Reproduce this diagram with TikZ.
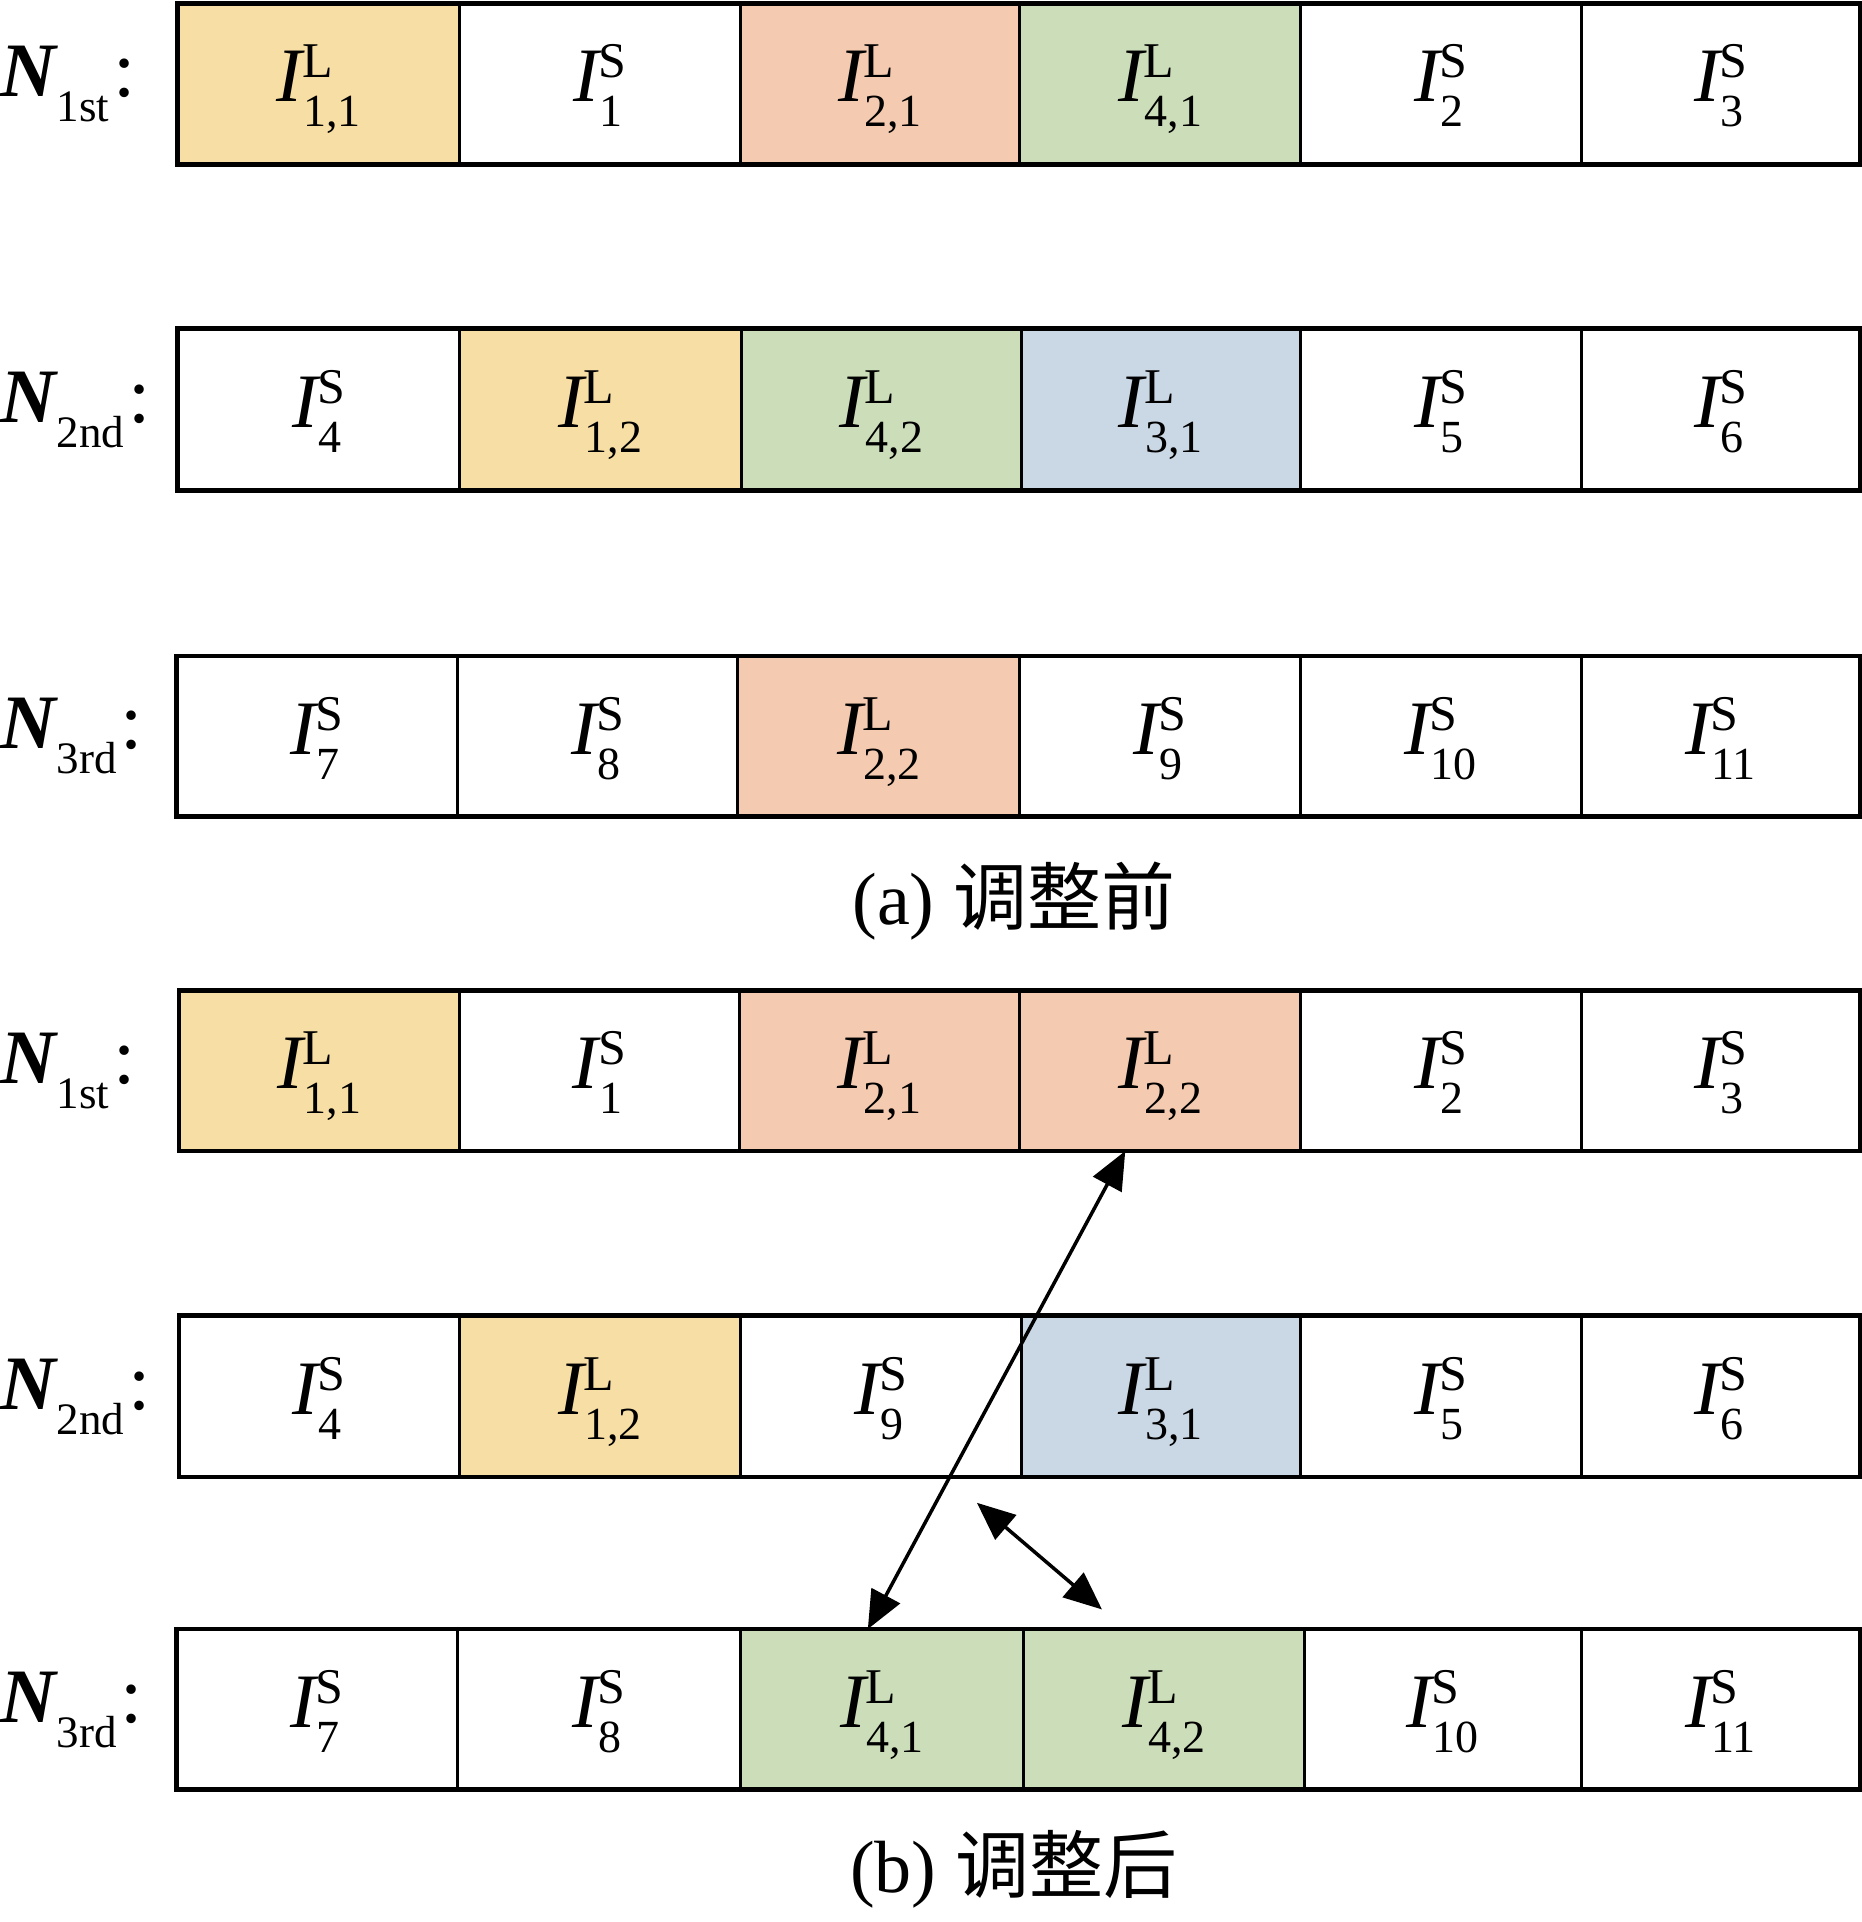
\documentclass[tikz,border=0pt]{standalone}
\usepackage{fontspec}
\setmainfont{Liberation Serif}
\newfontfamily\cjk{Noto Sans CJK SC}
\usetikzlibrary{arrows.meta,calc}
\definecolor{cy}{RGB}{247,222,164}
\definecolor{cs}{RGB}{244,202,176}
\definecolor{cg}{RGB}{204,222,185}
\definecolor{cb}{RGB}{202,215,228}
\newcommand\Iv[2]{\mbox{\fontsize{77}{77}\selectfont\itshape I}\kern-0.5pt\mbox{\ooalign{\raisebox{24pt}{\fontsize{50}{50}\selectfont #1}\cr\kern1pt\raisebox{-25pt}{\fontsize{46}{46}\selectfont #2}\cr}}}
\newcommand\Nl[1]{{\fontsize{77}{77}\selectfont\bfseries\itshape N}\kern1pt\raisebox{-25pt}{\fontsize{45}{45}\selectfont #1}\kern4pt{\fontsize{80}{80}\selectfont :}}
\newcommand\cell[7]{\node[cellbox, fill=#6, minimum width={(#3-#2)*1.2258pt}, minimum height={(#5-#4)*1.2258pt}] (#1) at ({(#2+#3)/2},{(#4+#5)/2}) {#7};}
\tikzset{
  cellbox/.style={draw=black, line width=3pt, inner sep=0pt, outer sep=0pt, text height=64pt, text depth=28pt},
  outerline/.style={draw=black, line width=4.5pt},
  lab/.style={inner sep=0pt, outer sep=0pt},
  captext/.style={inner sep=0pt, font=\fontsize{74}{74}\selectfont},
  dbl/.style={line width=3.5pt, {Triangle[length=38pt,width=32pt]}-{Triangle[length=38pt,width=32pt]}}
}
\begin{document}
\begin{tikzpicture}[x=1.2258pt, y=-1.2258pt]
\useasboundingbox (0,0) rectangle (1519,1568);
% ---- (a) row 1
\cell{a11}{145}{375}{3}{134}{cy}{\Iv{L}{1,1}}
\cell{a12}{375}{604}{3}{134}{white}{\Iv{S}{1}}
\cell{a13}{604}{832}{3}{134}{cs}{\Iv{L}{2,1}}
\cell{a14}{832}{1061}{3}{134}{cg}{\Iv{L}{4,1}}
\cell{a15}{1061}{1290}{3}{134}{white}{\Iv{S}{2}}
\cell{a16}{1290}{1517.2}{3}{134}{white}{\Iv{S}{3}}
\draw[outerline] (a11.north west) rectangle (a16.south east);
% ---- (a) row 2
\cell{a21}{145}{375}{268}{400}{white}{\Iv{S}{4}}
\cell{a22}{375}{605}{268}{400}{cy}{\Iv{L}{1,2}}
\cell{a23}{605}{833}{268}{400}{cg}{\Iv{L}{4,2}}
\cell{a24}{833}{1061}{268}{400}{cb}{\Iv{L}{3,1}}
\cell{a25}{1061}{1290}{268}{400}{white}{\Iv{S}{5}}
\cell{a26}{1290}{1517.2}{268}{400}{white}{\Iv{S}{6}}
\draw[outerline] (a21.north west) rectangle (a26.south east);
% ---- (a) row 3
\cell{a31}{144}{373}{535}{666}{white}{\Iv{S}{7}}
\cell{a32}{373}{602}{535}{666}{white}{\Iv{S}{8}}
\cell{a33}{602}{832}{535}{666}{cs}{\Iv{L}{2,2}}
\cell{a34}{832}{1061}{535}{666}{white}{\Iv{S}{9}}
\cell{a35}{1061}{1290}{535}{666}{white}{\Iv{S}{10}}
\cell{a36}{1290}{1517.2}{535}{666}{white}{\Iv{S}{11}}
\draw[outerline] (a31.north west) rectangle (a36.south east);
% ---- (b) row 1
\cell{b11}{146}{375}{808}{939}{cy}{\Iv{L}{1,1}}
\cell{b12}{375}{603}{808}{939}{white}{\Iv{S}{1}}
\cell{b13}{603}{832}{808}{939}{cs}{\Iv{L}{2,1}}
\cell{b14}{832}{1061}{808}{939}{cs}{\Iv{L}{2,2}}
\cell{b15}{1061}{1290}{808}{939}{white}{\Iv{S}{2}}
\cell{b16}{1290}{1517.2}{808}{939}{white}{\Iv{S}{3}}
\draw[outerline] (b11.north west) rectangle (b16.south east);
% ---- (b) row 2
\cell{b21}{146}{375}{1073}{1205}{white}{\Iv{S}{4}}
\cell{b22}{375}{604}{1073}{1205}{cy}{\Iv{L}{1,2}}
\cell{b23}{604}{833}{1073}{1205}{white}{\Iv{S}{9}}
\cell{b24}{833}{1061}{1073}{1205}{cb}{\Iv{L}{3,1}}
\cell{b25}{1061}{1290}{1073}{1205}{white}{\Iv{S}{5}}
\cell{b26}{1290}{1517.2}{1073}{1205}{white}{\Iv{S}{6}}
\draw[outerline] (b21.north west) rectangle (b26.south east);
% ---- (b) row 3
\cell{b31}{144}{373}{1329}{1460}{white}{\Iv{S}{7}}
\cell{b32}{373}{604}{1329}{1460}{white}{\Iv{S}{8}}
\cell{b33}{604}{835}{1329}{1460}{cg}{\Iv{L}{4,1}}
\cell{b34}{835}{1064}{1329}{1460}{cg}{\Iv{L}{4,2}}
\cell{b35}{1064}{1290}{1329}{1460}{white}{\Iv{S}{10}}
\cell{b36}{1290}{1517.2}{1329}{1460}{white}{\Iv{S}{11}}
\draw[outerline] (b31.north west) rectangle (b36.south east);
% ---- row labels
\node[lab, anchor=base west] (na1) at (0,79) {\Nl{1st}};
\node[lab, anchor=base west] (na2) at (0,344.5) {\Nl{2nd}};
\node[lab, anchor=base west] (na3) at (0,611) {\Nl{3rd}};
\node[lab, anchor=base west] (nb1) at (0,884) {\Nl{1st}};
\node[lab, anchor=base west] (nb2) at (0,1149.5) {\Nl{2nd}};
\node[lab, anchor=base west] (nb3) at (0,1405) {\Nl{3rd}};
% ---- captions
\node[captext] (capa) at (827,735) {(a) {\cjk 调整前}};
\node[captext] (capb) at (827,1525) {(b) {\cjk 调整后}};
% ---- arrows
\draw[dbl] ($(b14.south west)+(86,0)$) -- ($(b33.north west)+(104,0)$);
\draw[dbl] ($(b23.south east)+(-36,21)$) -- ($(b34.north west)+(64,-16)$);
\end{tikzpicture}
\end{document}
